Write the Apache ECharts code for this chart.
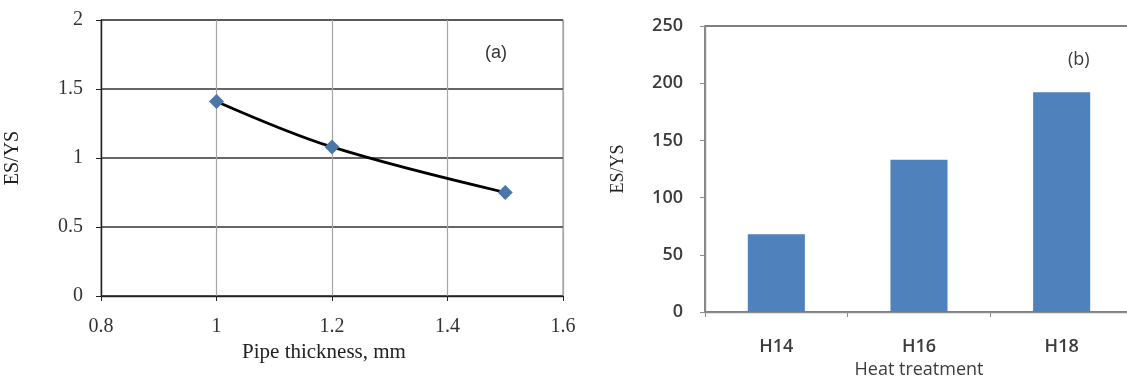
<!DOCTYPE html>
<html><head><meta charset="utf-8">
<script src="https://cdn.jsdelivr.net/npm/echarts@6/dist/echarts.min.js"></script>
<style>html,body{margin:0;padding:0;background:#fff}#c{width:1127px;height:380px}</style>
</head><body><div id="c"></div>
<script>
// Panel (a)
const thickness = [1, 1.2, 1.5];
const ratioA = [1.41, 1.08, 0.75];
// Panel (b)
const treatments = ['H14', 'H16', 'H18'];
const ratioB = [68, 133, 192];

const serif = '"Liberation Serif", "DejaVu Serif", serif';
const sans = '"Open Sans", "Liberation Sans", sans-serif';

const chart = echarts.init(document.getElementById('c'), null, {renderer: 'canvas'});
chart.setOption({
  animation: false,
  backgroundColor: '#fff',
  grid: [
    {left: 101, top: 20, width: 462, height: 276, show: true, borderColor: '#9a9a9a', borderWidth: 1.2,
     outerBoundsMode: 'none', containLabel: false},
    {left: 705, top: 26, width: 428, height: 286, show: true, borderColor: '#555', borderWidth: 1.4,
     outerBoundsMode: 'none', containLabel: false}
  ],
  xAxis: [
    {
      gridIndex: 0, type: 'value', min: 0.8, max: 1.6, interval: 0.2,
      name: 'Pipe thickness, mm', nameLocation: 'middle', nameGap: 46,
      nameTextStyle: {fontFamily: serif, fontSize: 21, color: '#222', padding: [0, 16, 0, 0]},
      axisLine: {show: true, lineStyle: {color: '#222', width: 1.4}},
      axisTick: {show: true, inside: false, length: 5, lineStyle: {color: '#222'}},
      axisLabel: {fontFamily: serif, fontSize: 20, color: '#333', margin: 21,
        formatter: v => String(+v.toFixed(1))},
      splitLine: {show: true, lineStyle: {color: '#a6a6a6', width: 1.2}}
    },
    {
      gridIndex: 1, type: 'category', data: treatments,
      name: 'Heat treatment', nameLocation: 'middle', nameGap: 47,
      nameTextStyle: {fontFamily: sans, fontSize: 18, color: '#3c3c3c'},
      axisLine: {show: true, lineStyle: {color: '#8c8c8c', width: 1.4}},
      axisTick: {show: true, length: 5, lineStyle: {color: '#8c8c8c'}},
      axisLabel: {fontFamily: sans, fontSize: 18, fontWeight: 600, color: '#3c3c3c', margin: 26},
      splitLine: {show: false}
    }
  ],
  yAxis: [
    {
      gridIndex: 0, type: 'value', min: 0, max: 2, interval: 0.5,
      name: 'ES/YS', nameLocation: 'middle', nameGap: 78, nameRotate: 90,
      nameTextStyle: {fontFamily: serif, fontSize: 20, color: '#222'},
      axisLine: {show: true, lineStyle: {color: '#222', width: 1.4}},
      axisTick: {show: true, length: 5, lineStyle: {color: '#222'}},
      axisLabel: {fontFamily: serif, fontSize: 20, color: '#333', margin: 18},
      splitLine: {show: true, lineStyle: {color: '#333', width: 1.6}}
    },
    {
      gridIndex: 1, type: 'value', min: 0, max: 250, interval: 50,
      name: 'ES/YS', nameLocation: 'middle', nameGap: 78, nameRotate: 90,
      nameTextStyle: {fontFamily: serif, fontSize: 18, color: '#222'},
      axisLine: {show: true, lineStyle: {color: '#8c8c8c', width: 1.4}},
      axisTick: {show: true, length: 5, lineStyle: {color: '#8c8c8c'}},
      axisLabel: {fontFamily: sans, fontSize: 18, fontWeight: 600, color: '#3c3c3c', margin: 22},
      splitLine: {show: false}
    }
  ],
  series: [
    {
      type: 'line', xAxisIndex: 0, yAxisIndex: 0, smooth: 0.35,
      data: thickness.map((x, i) => [x, ratioA[i]]),
      symbol: 'diamond', symbolSize: 15,
      itemStyle: {color: '#4a76a8'},
      lineStyle: {color: '#000', width: 2.8},
      z: 3
    },
    {
      type: 'bar', xAxisIndex: 1, yAxisIndex: 1, data: ratioB,
      barWidth: '40%', itemStyle: {color: '#4f81bd'}
    }
  ],
  graphic: [
    {type: 'text', left: 485, top: 44, style: {text: '(a)', font: '18px "Liberation Sans", sans-serif', fill: '#333'}},
    {type: 'text', left: 1068, top: 51, style: {text: '(b)', font: '18px ' + sans, fill: '#3c3c3c'}}
  ]
});
</script></body></html>
